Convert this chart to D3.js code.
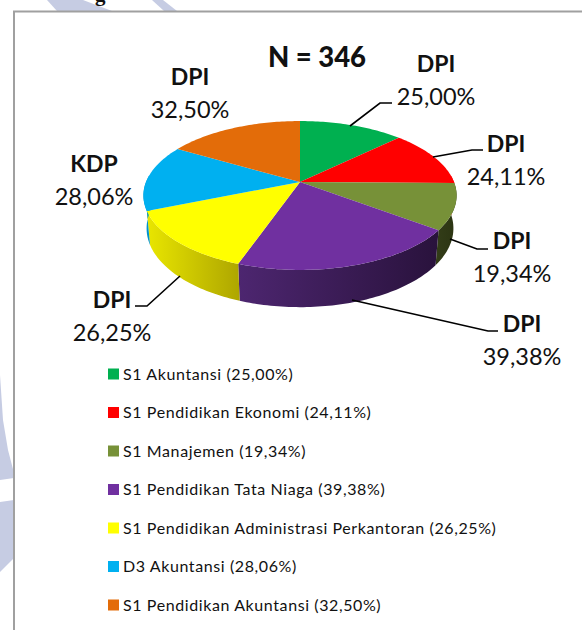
<!DOCTYPE html>
<html>
<head>
<meta charset="utf-8">
<script src="https://cdn.jsdelivr.net/npm/d3@7"></script>
<style>
    html, body { margin: 0; padding: 0; background: #fff; }
    svg { display: block; }
    text { font-family: Lato, "Open Sans", sans-serif; fill: #111; }
</style>
</head>
<body>
<div id="chart"></div>
<script>
// chart values
const categories = ["S1 Akuntansi", "S1 Pendidikan Ekonomi", "S1 Manajemen", "S1 Pendidikan Tata Niaga",
    "S1 Pendidikan Administrasi Perkantoran", "D3 Akuntansi", "S1 Pendidikan Akuntansi"];
const values = [25.00, 24.11, 19.34, 39.38, 26.25, 28.06, 32.50];
const grades = ["DPI", "DPI", "DPI", "DPI", "DPI", "KDP", "DPI"];
const colors = ["#00b050", "#ff0000", "#779138", "#7030a0", "#ffff00", "#00b0f0", "#e36c09"];
const wallLeft = ["#00b050", "#ff0000", "#333d18", "#4d2670", "#e9e600", "#0093cb", "#e36c09"];
const wallRight = ["#00b050", "#ff0000", "#2b3412", "#29123c", "#aea600", "#0093cb", "#e36c09"];

// where the labels sit, in the same order as categories
const labelX = [436, 506, 512, 522, 112, 94, 190];
const labelY = [72, 152, 249, 332, 308, 172, 85];
const leaders = [
    [[350, 126], [380, 103], [392, 103]],
    [[433, 157], [472, 150], [483, 150]],
    [[450, 239], [477, 249], [488, 249]],
    [[352, 300], [488, 331], [498, 331]],
    [[180, 276], [147, 306], [135, 306]],
    null,
    null
];

const width = 582, height = 630;
const fmt = d => d.toFixed(2).replace(".", ",") + "%";

const svg = d3.select("#chart").append("svg")
    .attr("width", width)
    .attr("height", height);

// watermark behind the chart box
const watermark = [
    [[47, 0], [83, 0], [112, 11], [57, 11]],
    [[152, 0], [163, 0], [177, 11], [164, 11]],
    [[0, 375], [3, 420], [8, 450], [14, 473], [14, 478], [0, 480]],
    [[0, 502], [14, 500], [14, 558], [0, 572]]
];
svg.selectAll("polygon.wm")
    .data(watermark)
    .join("polygon")
    .attr("class", "wm")
    .attr("points", d => d.join(" "))
    .attr("fill", "#c6cce3");

// only the tail of the heading line shows above the box
svg.append("text")
    .attr("x", 95)
    .attr("y", 1)
    .style("font-family", "'Liberation Serif', serif")
    .style("font-weight", "bold")
    .attr("font-size", 21)
    .text("g");

svg.append("path")
    .attr("d", "M14,630V11.5H582")
    .attr("fill", "none")
    .attr("stroke", "#a0a0a0")
    .attr("stroke-width", 2);

// pie with a bit of perspective
const cx = 300, cy = 182, R = 154, S = 72, depth = 33, k = 0.181, m = 0.02;
function project(angle, r, z) {
    const u = r * Math.sin(angle), v = -r * Math.cos(angle);
    const w = 1 - k * v + m * z;
    return [cx + R * u / w, cy + (S * v + depth * z) / w];
}
function arcAngles(a0, a1) {
    const n = Math.max(2, Math.ceil((a1 - a0) / 0.02));
    return d3.range(n + 1).map(i => a0 + (a1 - a0) * i / n);
}

const pie = d3.pie().sort(null);
const slices = pie(values).map((d, i) => ({...d, i}));
const line = d3.line().curve(d3.curveLinear);

const defs = svg.append("defs");
const grads = defs.selectAll("linearGradient")
    .data(slices)
    .join("linearGradient")
    .attr("id", d => "wall" + d.i);
grads.append("stop").attr("offset", "0%").attr("stop-color", d => wallLeft[d.i]);
grads.append("stop").attr("offset", "100%").attr("stop-color", d => wallRight[d.i]);

// side walls, front half only
const frontStart = Math.PI * 0.47, frontEnd = Math.PI * 1.53;
svg.selectAll("path.wall")
    .data(slices.filter(d => d.endAngle > frontStart && d.startAngle < frontEnd))
    .join("path")
    .attr("class", "wall")
    .attr("fill", d => "url(#wall" + d.i + ")")
    .attr("d", d => {
        const angles = arcAngles(Math.max(d.startAngle, frontStart), Math.min(d.endAngle, frontEnd));
        const top = angles.map(a => project(a, 1, 0));
        const bottom = angles.map(a => project(a, 1, 1)).reverse();
        return line(top.concat(bottom)) + "Z";
    });

// top face
svg.selectAll("path.top")
    .data(slices)
    .join("path")
    .attr("class", "top")
    .attr("fill", d => colors[d.i])
    .attr("d", d => {
        const rim = arcAngles(d.startAngle, d.endAngle).map(a => project(a, 1, 0));
        return line([[cx, cy]].concat(rim)) + "Z";
    });

// leader lines
svg.selectAll("path.leader")
    .data(leaders.filter(d => d))
    .join("path")
    .attr("class", "leader")
    .attr("d", d => line(d))
    .attr("fill", "none")
    .attr("stroke", "#000")
    .attr("stroke-width", 1.6);

svg.append("text")
    .attr("x", 317)
    .attr("y", 67)
    .attr("text-anchor", "middle")
    .attr("font-size", 27.5)
    .attr("font-weight", 900)
    .text("N = 346");

// slice labels
const labels = svg.selectAll("g.label")
    .data(slices)
    .join("g")
    .attr("class", "label")
    .attr("transform", d => "translate(" + labelX[d.i] + "," + labelY[d.i] + ")");
labels.append("text")
    .attr("text-anchor", "middle")
    .attr("font-size", 23)
    .attr("font-weight", "bold")
    .text(d => grades[d.i]);
labels.append("text")
    .attr("y", 33)
    .attr("text-anchor", "middle")
    .attr("font-size", 23.5)
    .text(d => fmt(d.data));

// legend
const legendY = d3.scalePoint()
    .domain(categories)
    .range([374, 605]);
const legend = svg.selectAll("g.legend")
    .data(categories)
    .join("g")
    .attr("class", "legend")
    .attr("transform", d => "translate(108," + legendY(d) + ")");
legend.append("rect")
    .attr("y", -5.5)
    .attr("width", 11)
    .attr("height", 11)
    .attr("fill", (d, i) => colors[i]);
legend.append("text")
    .attr("x", 15)
    .attr("y", 5.5)
    .attr("font-size", 16)
    .attr("letter-spacing", 0.6)
    .text((d, i) => d + " (" + fmt(values[i]) + ")");
</script>
</body>
</html>
